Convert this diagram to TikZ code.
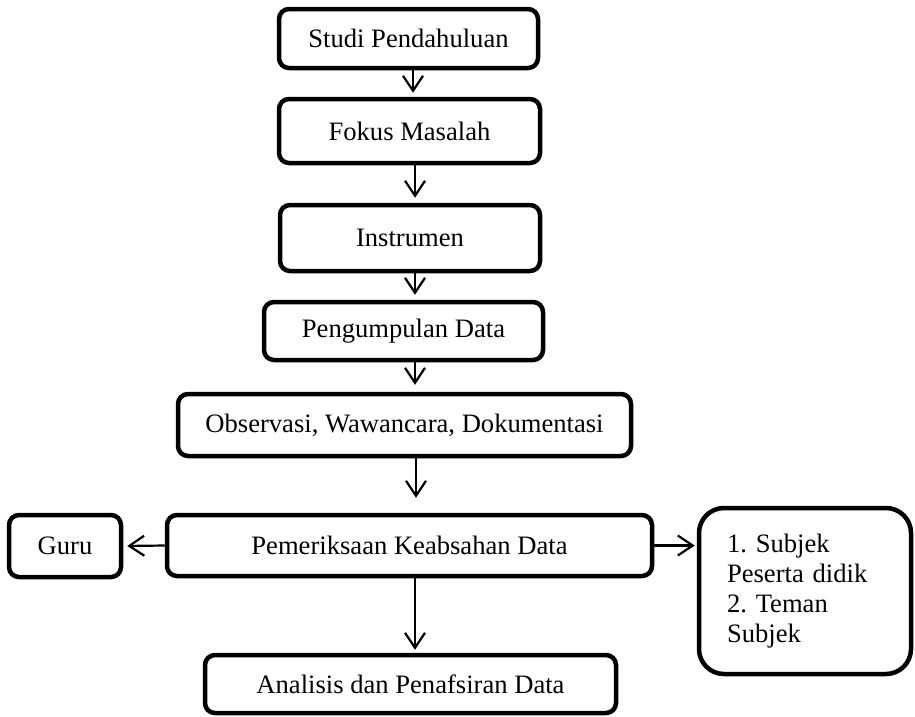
\documentclass[tikz,border=0pt]{standalone}
\usepackage{fontspec}
\setmainfont{Liberation Serif}
\usetikzlibrary{arrows.meta}
\frenchspacing
\begin{document}
\begin{tikzpicture}[x=1pt,y=-1pt,
  box/.style={draw,line width=4.5pt,rounded corners=10pt,inner sep=0pt,align=center,
    font=\fontsize{26.6}{30}\selectfont},
  arr/.style={line width=2.2pt,-{Straight Barb[length=15pt,width=20pt]}}]
\useasboundingbox (0,0) rectangle (915,716);
\node[box,minimum width=259pt,minimum height=59pt] (b1) at (408.5,38.5) {Studi Pendahuluan};
\node[box,minimum width=261pt,minimum height=64pt] (b2) at (409.5,131) {Fokus Masalah};
\node[box,minimum width=260pt,minimum height=66pt] (b3) at (410,238) {Instrumen};
\node[box,minimum width=279pt,minimum height=58pt] (b4) at (403.5,331) {Pengumpulan Data};
\node[box,minimum width=453pt,minimum height=62pt] (b5) at (404.5,425) {Observasi, Wawancara, Dokumentasi};
\node[box,minimum width=485pt,minimum height=61pt] (b6) at (409.5,545.5) {Pemeriksaan Keabsahan Data};
\node[box,minimum width=112pt,minimum height=62pt] (guru) at (65,546) {Guru};
\node[box,rounded corners=25pt,minimum width=212pt,minimum height=166pt,text width=156pt,
  inner xsep=28pt,align=left] (rb) at (805,591) {1. Subjek\\Peserta didik\\2. Teman\\Subjek};
\node[box,minimum width=411pt,minimum height=58pt] (b7) at (410.5,684) {Analisis dan Penafsiran Data};
\coordinate (ax1) at (413,0);
\coordinate (ax) at (415,0);
\coordinate (ax5) at (416,0);
\draw[arr,shorten >=4pt] (b1.south -| ax1) -- (b2.north -| ax1);
\draw[arr,shorten >=5pt] (b2.south -| ax) -- (b3.north -| ax);
\draw[arr,shorten >=5pt] (b3.south -| ax) -- (b4.north -| ax);
\draw[arr,shorten >=7pt] (b4.south -| ax) -- (b5.north -| ax);
\draw[arr,shorten >=15pt] (b5.south -| ax5) -- (b6.north -| ax5);
\draw[arr,shorten >=3pt] (b6.south -| ax) -- (b7.north -| ax);
\draw[arr,shorten >=4pt] (b6.west) -- (guru.east);
\draw[arr,shorten >=2pt] (b6.east) -- (b6.east -| rb.west);
\end{tikzpicture}
\end{document}
